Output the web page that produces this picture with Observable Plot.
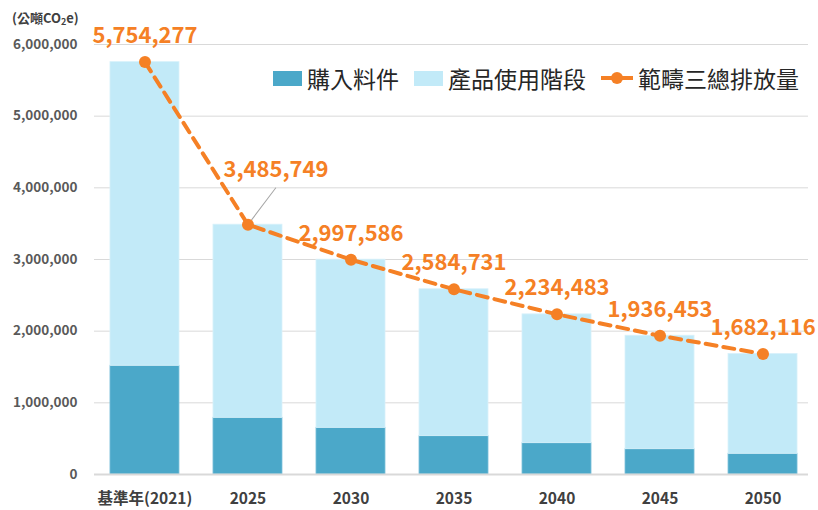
<!DOCTYPE html>
<html>
<head>
<meta charset="utf-8">
<script src="https://cdn.jsdelivr.net/npm/d3@7"></script>
<script src="https://cdn.jsdelivr.net/npm/@observablehq/plot@0.6"></script>
<style>
  body { margin: 0; background: #fff; font-family: "Noto Sans CJK TC", "Noto Sans", sans-serif; }
  #wrap { position: relative; width: 818px; height: 510px; }
  #unit { position: absolute; left: 12px; top: 8px; font-size: 13px; font-weight: bold; color: #404040; }
  #unit sub { font-size: 9px; vertical-align: -2px; }
  #legend { position: absolute; left: 273px; top: 61px; display: flex; align-items: center; font-size: 23px; color: #262626; white-space: nowrap; }
  .sw { display: inline-block; width: 29px; height: 15px; margin-right: 5px; }
  .item { display: flex; align-items: center; margin-right: 15px; }
  .ln { position: relative; width: 32px; height: 15px; margin-right: 5px; }
  .ln::before { content: ""; position: absolute; left: 0; right: 0; top: 5.5px; height: 4px; background: #F58025; }
  .ln::after { content: ""; position: absolute; left: 9.5px; top: 1.5px; width: 12px; height: 12px; border-radius: 50%; background: #F58025; }
</style>
</head>
<body>
<div id="wrap">
  <div id="chart"></div>
  <div id="unit">(公噸CO<sub>2</sub>e)</div>
  <div id="legend"></div>
</div>
<script>
const categories = ["基準年(2021)", "2025", "2030", "2035", "2040", "2045", "2050"];
const purchased = [1517000, 791000, 651000, 535000, 437000, 353000, 289000];
const totals = [5754277, 3485749, 2997586, 2584731, 2234483, 1936453, 1682116];
const seriesNames = ["購入料件", "產品使用階段", "範疇三總排放量"];
const yTicks = [0, 1000000, 2000000, 3000000, 4000000, 5000000, 6000000];

const colors = { dark: "#4BA8C9", light: "#C2EAF8", orange: "#F58025" };

const rows = categories.map((c, i) => ({ cat: c, dark: purchased[i], total: totals[i] }));
const fmt = d3.format(",");

const chart = Plot.plot({
  width: 818,
  height: 510,
  marginTop: 44,
  marginBottom: 36,
  marginLeft: 94,
  marginRight: 10,
  style: { fontFamily: "'Noto Sans CJK TC', 'Noto Sans', sans-serif", background: "#fff" },
  x: { domain: categories, paddingInner: 0.33, paddingOuter: 0.155, insetRight: -5, insetLeft: 0, round: false },
  y: { domain: [0, 6000000] },
  marks: [
    Plot.gridY(yTicks, { stroke: "#d9d9d9", strokeOpacity: 1, strokeWidth: 1 }),
    Plot.axisY(yTicks, { tickSize: 0, tickPadding: 17, tickFormat: fmt, fontSize: 13.5, fontWeight: "bold", fill: "#595959", label: null }),
    Plot.axisX({ tickSize: 0, tickPadding: 18, fontSize: 15.5, fontWeight: "bold", fill: "#404040", label: null }),
    Plot.barY(rows, { x: "cat", y1: 0, y2: "dark", fill: colors.dark, stroke: "#7cc0da", strokeWidth: 0.8, inset: 0 }),
    Plot.barY(rows, { x: "cat", y1: "dark", y2: "total", fill: colors.light, stroke: "#d8f1fa", strokeWidth: 0.8, inset: 0 }),
    Plot.ruleY([0], { stroke: "#d9d9d9", strokeWidth: 2 }),
    Plot.vector(rows.filter((d, i) => i === 1), {
      x: "cat", y: "total", length: 46, rotate: 37, anchor: "start",
      stroke: "#a6a6a6", strokeWidth: 1,
      shape: { draw(ctx, l) { ctx.moveTo(0, -6); ctx.lineTo(0, -l); } }
    }),
    Plot.line(rows, { x: "cat", y: "total", stroke: colors.orange, strokeWidth: 4, strokeDasharray: "11,7" }),
    Plot.dot(rows, { x: "cat", y: "total", r: 6, fill: colors.orange, stroke: "none" }),
    Plot.text(rows.filter((d, i) => i !== 1), { x: "cat", y: "total", text: d => fmt(d.total), dy: -26, fill: colors.orange, fontSize: 22, fontWeight: "bold" }),
    Plot.text(rows.filter((d, i) => i === 1), { x: "cat", y: "total", text: d => fmt(d.total), dx: 28, dy: -55, fill: colors.orange, fontSize: 22, fontWeight: "bold" })
  ]
});
document.getElementById("chart").appendChild(chart);

const legend = document.getElementById("legend");
legend.innerHTML =
  `<div class="item"><span class="sw" style="background:${colors.dark}"></span>${seriesNames[0]}</div>` +
  `<div class="item"><span class="sw" style="background:${colors.light}"></span>${seriesNames[1]}</div>` +
  `<div class="item" style="margin-right:0"><span class="ln"></span>${seriesNames[2]}</div>`;
</script>
</body>
</html>
